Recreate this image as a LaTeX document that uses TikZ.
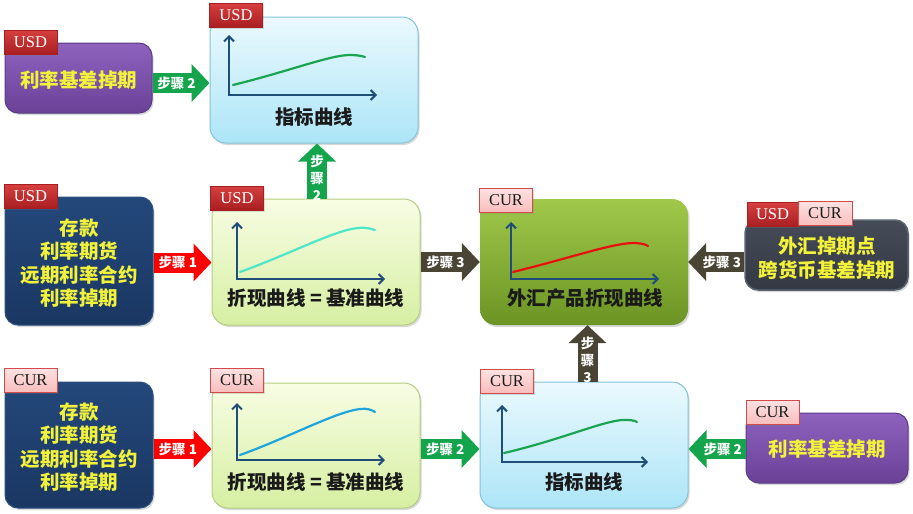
\documentclass[tikz,border=0pt]{standalone}
\usepackage{fontspec}
\newfontfamily\cjk{Noto Sans CJK SC}
\newfontfamily\tagfont{Liberation Serif}
\usetikzlibrary{arrows.meta,shadows}
\definecolor{purpleT}{HTML}{8E62BE}\definecolor{purpleB}{HTML}{6A4197}\definecolor{purpleD}{HTML}{5B3A86}
\definecolor{navyT}{HTML}{23487A}\definecolor{navyB}{HTML}{1B3763}\definecolor{navyD}{HTML}{2B4F80}
\definecolor{blueT}{HTML}{EAF9FE}\definecolor{blueB}{HTML}{ADE5F7}\definecolor{blueD}{HTML}{84C3DA}
\definecolor{lgT}{HTML}{F8FDE4}\definecolor{lgB}{HTML}{D6EFA2}\definecolor{lgD}{HTML}{B5CD7E}
\definecolor{oliveT}{HTML}{A0C84A}\definecolor{oliveB}{HTML}{6B9424}
\definecolor{slateT}{HTML}{454B57}\definecolor{slateB}{HTML}{343944}\definecolor{slateD}{HTML}{5A6372}
\definecolor{tagRedT}{HTML}{D6403F}\definecolor{tagRedB}{HTML}{A91E22}
\definecolor{tagPinkT}{HTML}{FDE2E2}\definecolor{tagPinkB}{HTML}{F8BDBD}\definecolor{tagPinkD}{HTML}{D14B4B}
\definecolor{ytext}{HTML}{F2F23A}
\definecolor{cgreen}{HTML}{14A54C}\definecolor{cred}{HTML}{FF0000}\definecolor{cbrown}{HTML}{4A4434}
\definecolor{axisc}{HTML}{1F4E79}
\definecolor{cGreenC}{HTML}{1AA450}\definecolor{cCyan}{HTML}{4DE6C8}\definecolor{cRedC}{HTML}{E8100E}\definecolor{cBlueC}{HTML}{1EA5DC}
\definecolor{darktext}{HTML}{1A1A1A}
\begin{document}
\begin{tikzpicture}[x=1pt,y=-1pt,
  box/.style={rounded corners=13pt, inner sep=0pt,
    drop shadow={opacity=0.3,shadow xshift=1.5pt,shadow yshift=-2pt}},
  purplebox/.style={box, top color=purpleT, bottom color=purpleB, draw=purpleD, line width=1pt},
  navybox/.style={box, top color=navyT, bottom color=navyB, draw=navyD, line width=1pt},
  bluebox/.style={box, rounded corners=16pt, top color=blueT, bottom color=blueB, draw=blueD, line width=1pt},
  lgbox/.style={box, rounded corners=16pt, top color=lgT, bottom color=lgB, draw=lgD, line width=1pt},
  olivebox/.style={box, rounded corners=16pt, top color=oliveT, bottom color=oliveB},
  slatebox/.style={box, top color=slateT, bottom color=slateB, draw=slateD, line width=1.5pt},
  tag/.style={minimum width=53pt, minimum height=24pt, inner sep=0pt,
    font=\tagfont\fontsize{16.5}{16.5}\selectfont,
    drop shadow={opacity=0.25,shadow xshift=1pt,shadow yshift=-1.5pt}},
  usdtag/.style={tag, top color=tagRedT, bottom color=tagRedB, draw=tagRedB, text=white},
  curtag/.style={tag, top color=tagPinkT, bottom color=tagPinkB, draw=tagPinkD, line width=0.8pt, text=darktext},
  ytxt/.style={text=ytext, font=\cjk\bfseries\fontsize{19.5}{23.5}\selectfont, align=center, inner sep=0pt},
  dtxt/.style={text=darktext, font=\cjk\bfseries\fontsize{19.5}{23.5}\selectfont, align=center, inner sep=0pt},
  blk/.style={line width=20pt, draw=#1, -{Triangle[length=18pt,width=37pt]}},
  alab/.style={text=white, font=\cjk\bfseries\fontsize{13.5}{14}\selectfont, inner sep=0pt},
  vlab/.style={text=white, font=\cjk\bfseries\fontsize{13.5}{17}\selectfont, inner sep=0pt, align=center},
  axis/.style={draw=axisc, line width=2pt, {Straight Barb[length=5pt,width=10pt]}-{Straight Barb[length=5pt,width=10pt]}},
  crv/.style={line width=2.2pt, draw=#1, line cap=round}
]
\fill[white] (0,0) rectangle (913,514);
\useasboundingbox (0,0) rectangle (913,514);

% boxes
\node[purplebox, minimum width=147pt, minimum height=70pt] (p1) at (78.5,78) {};
\node[bluebox, minimum width=208pt, minimum height=126pt] (idx1) at (314,80) {};
\node[navybox, minimum width=148pt, minimum height=128pt] (n1) at (79,261) {};
\node[lgbox, minimum width=208pt, minimum height=126pt] (d1) at (316,262) {};
\node[olivebox, minimum width=208pt, minimum height=126pt] (fx) at (584,262) {};
\node[slatebox, minimum width=163pt, minimum height=70pt] (sw) at (826.5,255) {};
\node[navybox, minimum width=148pt, minimum height=126pt] (n2) at (79,445) {};
\node[lgbox, minimum width=208pt, minimum height=125pt] (d2) at (316,445.5) {};
\node[bluebox, minimum width=208pt, minimum height=126pt] (idx2) at (584,445) {};
\node[purplebox, minimum width=162pt, minimum height=70pt] (p2) at (827,448) {};

% tags
\node[usdtag] (t1) at (30.5,42) {USD};
\node[usdtag] (t2) at (236,15) {USD};
\node[usdtag] (t3) at (30.5,196) {USD};
\node[usdtag] (t4) at (237,198) {USD};
\node[curtag] (t5) at (506,200) {CUR};
\node[usdtag, minimum width=51pt] (t6) at (772.5,214.5) {USD};
\node[curtag, minimum width=54pt] (t7) at (825,213.5) {CUR};
\node[curtag] (t8) at (30.5,380) {CUR};
\node[curtag] (t9) at (237,380) {CUR};
\node[curtag] (t10) at (507,381) {CUR};
\node[curtag] (t11) at (772.5,412) {CUR};

% charts
\draw[axis] (229,35) -- (229,95) -- (377,95);
\draw[crv=cGreenC] (233,85) .. controls (290,71) and (330,55) .. (350,55) .. controls (357,55) and (362,56) .. (365,57);
\draw[axis] (237,222) -- (237,279) -- (385,279);
\draw[crv=cCyan] (240,272) .. controls (290,254) and (335,230) .. (358,228) .. controls (366,227) and (371,229) .. (375,230);
\draw[axis] (511,222) -- (511,279) -- (659,279);
\draw[crv=cRedC] (513,272) .. controls (570,258) and (610,244) .. (632,243) .. controls (640,243) and (645,244) .. (648,246);
\draw[axis] (237,403) -- (237,460) -- (385,460);
\draw[crv=cBlueC] (240,455) .. controls (290,437) and (335,412) .. (360,409) .. controls (367,408) and (372,410) .. (375,412);
\draw[axis] (502,405) -- (502,462) -- (648,462);
\draw[crv=cGreenC] (504,453) .. controls (560,440) and (600,422) .. (622,420) .. controls (630,420) and (634,420) .. (637,422);

% box texts
\node[ytxt] (p1t) at (78.5,80) {利率基差掉期};
\node[dtxt] (idx1t) at (314,117) {指标曲线};
\node[ytxt] (n1t) at (79,263) {存款\\利率期货\\远期利率合约\\利率掉期};
\node[dtxt] (d1t) at (316,298) {折现曲线 = 基准曲线};
\node[dtxt] (fxt) at (585,298) {外汇产品折现曲线};
\node[ytxt] (swt) at (827,258) {外汇掉期点\\跨货币基差掉期};
\node[ytxt] (n2t) at (79,447) {存款\\利率期货\\远期利率合约\\利率掉期};
\node[dtxt] (d2t) at (316,482) {折现曲线 = 基准曲线};
\node[dtxt] (idx2t) at (584,482) {指标曲线};
\node[ytxt] (p2t) at (827,449) {利率基差掉期};

% block arrows
\draw[blk=cgreen] (p1.east |- 0,83) -- (idx1.west |- 0,83) node[pos=0.42, alab] (a1) {步骤 2};
\draw[blk=cgreen] (d1.north -| 317,0) -- (idx1.south -| 317,0) node[pos=0.38, vlab] (a2) {步\\骤\\2};
\draw[blk=cred] (n1.east |- 0,262.5) -- (d1.west |- 0,262.5) node[pos=0.42, alab] (a3) {步骤 1};
\draw[blk=cbrown] (d1.east |- 0,262) -- (fx.west |- 0,262) node[pos=0.42, alab] (a4) {步骤 3};
\draw[blk=cbrown] (sw.west |- 0,262) -- (fx.east |- 0,262) node[pos=0.4, alab] (a5) {步骤 3};
\draw[blk=cred] (n2.east |- 0,449) -- (d2.west |- 0,449) node[pos=0.42, alab] (a6) {步骤 1};
\draw[blk=cgreen] (d2.east |- 0,449) -- (idx2.west |- 0,449) node[pos=0.42, alab] (a7) {步骤 2};
\draw[blk=cbrown] (idx2.north -| 587.5,0) -- (fx.south -| 587.5,0) node[pos=0.38, vlab] (a8) {步\\骤\\3};
\draw[blk=cgreen] (p2.west |- 0,449) -- (idx2.east |- 0,449) node[pos=0.4, alab] (a9) {步骤 2};
\end{tikzpicture}
\end{document}
